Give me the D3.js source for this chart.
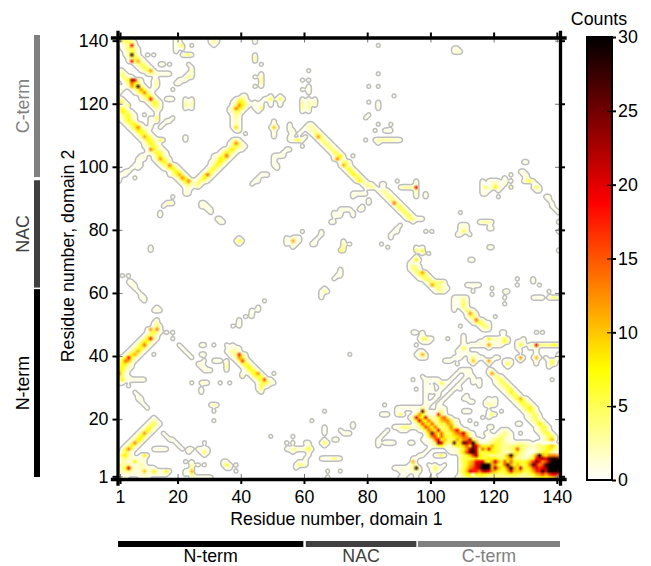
<!DOCTYPE html>
<html>
<head>
<meta charset="utf-8">
<script src="https://cdn.jsdelivr.net/npm/d3@7"></script>
<style>
  body { margin: 0; background: #fff; }
  text { font-family: "Liberation Sans", Arial, sans-serif; font-size: 17.8px; fill: #000; }
</style>
</head>
<body>
<svg id="chart" width="651" height="566"></svg>
<script>
// each run is [residue 1 start, residue 2, counts along residue 1 in base 36]
const topLeftRuns = [
  [1,140,"25541"],[1,139,"134542"],[2,138,"124i2"],[2,137,"125531"],[3,136,"13641"],[3,135,"14s51"],
  [4,134,"24651"],[4,133,"1i5b21"],[6,132,"13641"],[7,131,"13641"],[8,130,"135c2"],[10,129,"1331"],
  [1,130,"12"],[1,129,"151"],[1,128,"13421"],[2,127,"147ok41"],[3,126,"15e851"],[3,125,"12b6s51"],
  [5,124,"136c62"],[6,123,"137d51"],[8,122,"24861"],[8,121,"125i41"],[10,120,"13651"],[11,119,"1651"],
  [12,118,"132"],[13,117,"1"],[13,116,"2"],[13,115,"6"],[12,114,"12"],
  [12,127,"12"],[12,126,"13"],[12,125,"12"],[12,124,"1"],
  [1,125,"1"],[1,124,"21"],[1,123,"1"],[1,121,"42"],[1,120,"851"],[1,119,"3115"],
  [1,118,"463"],[1,117,"28631"],[1,116,"135621"],[1,115,"125721"],[2,114,"14752"],[3,113,"136841"],
  [4,112,"137d41"],[5,111,"138741"],[6,110,"137631"],[7,109,"13b641"],[8,108,"138631"],[14,108,"62"],
  [9,107,"14851"],[9,106,"124741"],[10,105,"1d6421"],[10,104,"1247521"],[12,103,"15831"],[12,102,"14c631"],
  [13,101,"14852"],[14,100,"135d41"],[15,99,"136841"],[17,98,"14862"],[17,97,"136b51"],[19,96,"15d82"],
  [20,95,"148d3"],[21,94,"1352"],[22,93,"121"],[22,92,"11"],[22,91,"11"]
];
const upStrandRuns = [
  [26,93,"3"],[25,94,"251"],[25,95,"13531"],[26,96,"14841"],[27,97,"16e41"],[28,98,"13731"],[29,99,"14731"],
  [30,100,"14841"],[30,101,"125841"],[31,102,"138741"],[31,103,"1146e41"],[33,104,"148531"],[34,105,"1368311"],
  [36,106,"256411"],[36,107,"14d51"],[37,108,"241"],[38,111,"13"],[37,112,"191"],[37,113,"131"],[37,114,"121"],
  [37,115,"131"],[37,116,"142"],[36,117,"12541"],[36,118,"14d851"],[37,119,"15d741"],[37,120,"128731"],
  [38,121,"1451"],[40,122,"12"],[41,110,"1"]
];
const midStrandRuns = [
  [61,113,"12"],[61,112,"231"],[61,111,"1241"],[62,110,"1352"],[63,109,"3c41"],[64,108,"1531"],[65,107,"1531"],
  [66,106,"1531"],[67,105,"1531"],[68,104,"1541"],[69,103,"1582"],[69,102,"2d51"],[71,101,"1451"],[71,100,"2b51"],
  [72,99,"1562"],[73,98,"1651"],[74,97,"2852"],[75,96,"1561"],[76,95,"2841"],[78,94,"1341"],[79,93,"1241"],
  [83,92,"1231"],[84,91,"1331"],[85,90,"1431"],[86,89,"1441"],[87,88,"1e41"],[88,87,"1551"],[89,86,"1551"],
  [90,85,"1551"],[91,84,"1551"],[92,83,"15411"],[94,82,"1"],[96,83,"11"],
  [94,70,"181"],[95,71,"1"],[93,69,"111"],[93,68,"1521"],[93,67,"1441"],[94,66,"146c3"],[95,65,"14651"],
  [96,64,"13551"],[98,63,"1455261"],[99,62,"1c5421"],[100,61,"125221"],[101,60,"1231"],
  [107,58,"11131"],[107,57,"10241"],[107,56,"10252"],[107,55,"10151"],[107,54,"1"],[110,54,"1531"],[111,53,"1c41"],
  [111,52,"1462"],[112,51,"12e41"],[113,50,"146511"],[115,49,"1452"],[116,48,"121"],[120,52,"1"]
];
const lowerLeftRuns = [
  [13,51,"1"],[13,50,"3"],[12,50,"1"],[12,49,"151"],[10,48,"1c3d1"],[10,47,"14731"],[9,46,"14631"],[8,45,"138i41"],
  [7,44,"148731"],[6,43,"137e41"],[5,42,"136841"],[4,41,"136b41"],[3,40,"148b41"],[1,39,"237i731"],[1,38,"36eb41"],
  [1,37,"47831"],[1,36,"67421"],[1,35,"8631"],[1,34,"c51"],[1,33,"8411"],[1,32,"182111111"],[1,31,"11"],[4,30,"1"],
  [35,43,"1"],[37,43,"1"],[36,42,"1111"],[35,41,"12331"],[36,40,"124h31"],[37,39,"13c82"],[38,38,"15g41"],[39,37,"15741"],
  [40,36,"15841"],[41,35,"15751"],[42,34,"158c2"],[43,33,"15662"],[44,32,"156f21"],[45,31,"156421"],[45,30,"1721"],
  [45,29,"14"],[46,28,"2"],[50,34,"1"],[40,34,"1"],[40,33,"3"],
  [12,20,"1"],[11,19,"131"],[10,18,"13621"],[9,17,"14721"],[8,16,"14841"],[7,15,"24c41"],[6,14,"14851"],[5,13,"13871"],
  [4,12,"14d51"],[3,11,"14841"],[2,10,"16d41"],[2,9,"2631"],[1,8,"16831"],[8,8,"181"],[1,7,"124121"],[7,7,"111"],
  [1,6,"122128211"],[1,5,"523411131"],[1,4,"237k51122111"],[1,3,"12342112a12821281"],[1,2,"1111111121131112"],
  [2,1,"11"],[8,1,"111"]
];
const rightRuns = [
  [118,35,"12"],[118,34,"2c2"],[119,33,"1341"],[120,32,"1451"],[120,31,"12551"],[121,30,"12561"],[122,29,"12561"],
  [123,28,"13841"],[124,27,"13641"],[125,26,"136b41"],[126,25,"136631"],[127,24,"136541"],[128,23,"136841"],
  [129,22,"13651"],[130,21,"12541"],[130,20,"12451"],[131,19,"13541"],[132,18,"13851"],[133,17,"13651"],
  [133,16,"12551"],[134,15,"13661"],[135,14,"13561"],[135,13,"136b2"],
  [117,45,"18222261"],[115,44,"1112111272"],[127,44,"121"],[129,45,"1"],[112,43,"1111"],[116,43,"12c2111"],
  [127,43,"171"],[131,43,"13k4444673"],[118,42,"1"],[127,42,"1"],[131,42,"1"],[133,42,"2"],[133,41,"1"],[133,40,"1"],
  [110,46,"1"],[110,45,"1"],[110,44,"1"],[110,43,"2"],[110,42,"6"],[109,42,"1"],[111,42,"1"],[108,41,"111"],
  [110,41,"11"],[112,40,"111"],[128,41,"1"],[104,38,"111"],[107,39,"111"],[110,40,"1"],[112,39,"141"],[112,38,"1a2"],
  [117,38,"1c1"],[123,38,"121"],[127,39,"1c1"],[128,38,"2"],[132,39,"1b1"],[133,38,"1"],[133,37,"1"],[136,39,"1"],
  [137,38,"161"],[137,37,"161"],[137,36,"1"],[113,37,"2"],[118,37,"2"],[123,37,"161"],[124,36,"1"],[108,37,"1"],
  [120,39,"11"],[115,39,"11"],[140,40,"1"],[140,39,"2"]
];
const triangleRuns = [
  [89,23,"1111111141"],[102,23,"111"],[89,22,"1"],[96,22,"3q4"],[100,22,"1"],[102,22,"241"],[89,21,"151"],
  [94,21,"14c73111h51"],[93,20,"14k97k4236cf51"],[94,19,"27k97e525acd621"],[95,18,"26g97f5465ca31"],
  [88,17,"112543111"],[96,17,"37gb7e5356d721"],[97,16,"26ea6j646adj821"],[98,15,"39pc7e646adfl821"],
  [98,14,"16eg7e75689cfc31"],[100,13,"4ek7a546b8dem621"],[100,12,"15ok645q6aqnhub21"],
  [122,16,"121"],[121,15,"12421"],[119,14,"1134311"],[117,13,"112454211"],[117,12,"124564321123221012"],
  [101,11,"26731"],[106,11,"1586af8pkb686b754334455432234458a52"],
  [108,10,"247cnrl6e8j86543346f5321123468642"],[107,9,"1259gpsl7576875322357431012467531"],
  [101,8,"1261"],[109,8,"357agn865434335bt9432125dtc8dddc"],[109,7,"4556797668785469c5332247iknjqstq"],
  [109,6,"357acjkk97blb7f7e76768bhojcgouuut"],[109,5,"257bdkmtutbd67erb6a658erkcgruuuu"],
  [109,4,"359dgjnuutbnb78fuc8l869fkhknuuuu"],[109,3,"46akihdkmjca766bka9a658bhisktuts"],
  [109,2,"257808787555445676553457bcgbgkki"],[109,1,"13454344332333223332233457878aba"],
  [88,4,"1111111"],[95,4,"s"],[94,4,"3"],[96,4,"3"],[94,6,"b"],[94,7,"1"],[94,5,"3"],[93,5,"12"],[95,5,"3"],
  [96,3,"1"],[90,3,"11"],[93,3,"1222"],[92,2,"1"],[95,2,"1"],[100,4,"161"],[99,5,"1"],[101,5,"2"],[100,3,"121"],
  [103,4,"1"],[104,5,"1"],[90,1,"11"],[95,1,"1"],[100,1,"11"],[108,1,"1"]
];
const sparseRuns = [
  [14,129,"1111"],[10,135,"1"],[12,135,"1"],[14,132,"11"],[17,132,"1"],[23,132,"1"],[19,140,"12"],[19,139,"11"],
  [19,138,"126"],[19,137,"1"],[21,137,"1"],[19,136,"1"],[21,135,"1351"],[24,138,"1"],[30,140,"121"],[30,139,"131"],
  [31,138,"1"],[44,140,"2"],[44,139,"1"],[44,135,"1"],[44,134,"4"],[44,133,"2"],[46,132,"1"],[44,128,"1"],[44,125,"1"],
  [46,129,"1"],[46,128,"3"],[46,127,"4"],[46,126,"3"],[46,125,"1"],[24,131,"1"],[24,130,"3"],[23,129,"12"],[22,128,"141"],
  [20,127,"111"],[19,126,"11"],[18,124,"1"],[16,121,"111"],[22,121,"1"],[24,121,"1"],[22,120,"3"],[24,120,"3"],[22,119,"4"],
  [23,119,"1"],[24,119,"3"],[22,118,"1"],[24,118,"1"],[22,109,"1"],[22,108,"1"],[44,120,"1"],[44,119,"1"],[44,118,"1"],
  [45,117,"1"],[46,118,"5"],[46,119,"2"],[46,120,"1"],[47,121,"1"],[48,121,"1"],[49,121,"6"],[49,122,"1"],[49,120,"1"],
  [49,119,"1"],[52,122,"1"],[51,121,"161"],[52,120,"1"],[52,119,"1"],[50,114,"1"],[50,113,"2"],[49,112,"1a1"],[50,111,"2"],
  [50,110,"1"],[50,109,"1"],[59,121,"1"],[59,120,"3"],[59,119,"4"],[59,118,"3"],[59,117,"1"],[61,121,"1"],[61,120,"3"],
  [61,119,"4"],[61,118,"3"],[61,117,"1"],[63,121,"1"],[63,120,"3"],[63,119,"2"],[61,130,"1"],[59,127,"1"],[61,127,"1"],
  [59,124,"1"],[61,125,"1"],[61,124,"1"],[61,123,"1"],[55,113,"1"],[55,112,"1"],[55,111,"11"],[56,110,"1"],[55,109,"1"],
  [55,108,"11551"],[58,110,"1"],[59,111,"1"],[60,112,"1"],[60,109,"1"],[59,106,"1"],[54,105,"11"],[53,104,"1"],
  [50,103,"1111"],[50,102,"1"],[50,101,"1"],[50,100,"11"],[51,99,"1"],[46,97,"111"],[45,96,"1"],[44,95,"11"],[43,94,"1"],
  [27,88,"11"],[27,87,"1"],[28,87,"11"],[29,86,"11"],[30,85,"1"],[32,83,"11"],[33,82,"11"],[18,90,"1"],[16,88,"131"],
  [15,87,"1"],[14,85,"1"],[14,84,"1"],[39,77,"1"],[38,76,"172"],[39,75,"1"],[54,77,"1021"],[54,76,"11c11"],[54,75,"1021"],
  [56,74,"1"],[58,77,"1"],[59,79,"1"],[62,75,"11"],[63,76,"1"],[64,77,"1"],[65,78,"1"],[65,79,"1"],[68,82,"11"],[69,85,"1"],
  [69,84,"11"],[11,74,"1"],[11,73,"1"],[6,100,"1"],[5,99,"1"],[3,98,"11"],[1,97,"111"],[1,96,"1"],[1,95,"1"],[6,96,"1"],
  [7,102,"111"],[8,103,"11"],[7,101,"1"],[8,100,"1"],[7,99,"1"],[11,112,"1"],[11,113,"1"],[11,114,"1"],[11,115,"1"],
  [14,112,"1"],[15,113,"1"],[16,114,"11"],[18,115,"1"],[9,116,"1"],
  [83,138,"1"],[107,137,"11"],[107,136,"121"],[83,129,"1"],[80,125,"1"],[83,125,"1"],[88,122,"1"],[80,120,"1"],[83,120,"1"],
  [83,119,"1"],[83,118,"1"],[80,116,"1"],[79,115,"1"],[83,113,"1"],[87,113,"1"],[82,111,"1"],[85,111,"111"],[79,108,"1"],
  [82,108,"133333221"],[83,107,"1"],[75,103,"1"],[84,94,"11"],[89,95,"1"],[90,93,"2333"],[94,93,"3k"],[95,95,"1"],[95,94,"2"],
  [95,92,"4"],[95,91,"2"],[95,90,"1"],[98,91,"1"],[98,90,"1"],[75,91,"11111"],[75,90,"1"],[80,89,"1"],[80,88,"1"],[78,87,"1"],
  [77,86,"11"],[75,85,"1"],[75,84,"1"],[71,86,"1111"],[71,85,"1"],[71,84,"1"],[90,81,"1"],[89,80,"1"],[88,79,"11"],[87,78,"1"],
  [87,77,"1"],[84,75,"1"],[86,74,"1"],[98,79,"1"],[100,79,"1"],[109,85,"1"],[109,81,"111"],[109,80,"121"],[109,79,"161"],
  [108,78,"11"],[112,78,"1"],[115,82,"13331"],[118,80,"11"],[118,74,"11"],[95,74,"1"],[95,73,"6"],[96,73,"1"],[97,74,"1"],
  [97,73,"7"],[97,72,"3"],[99,72,"1"],[95,71,"2"],[72,76,"1"],[72,75,"3"],[72,74,"4"],[72,73,"3"],[71,73,"5"],[74,75,"1"],
  [112,70,"11"],[116,95,"1"],[118,95,"1111"],[123,96,"1"],[123,95,"1"],[123,94,"2"],[116,94,"1"],[119,94,"141"],[116,93,"1612821"],
  [116,92,"1"],[118,92,"1"],[121,92,"1"],[121,90,"1"],[116,91,"11"],[125,97,"1"],[125,95,"1"],[125,93,"4"],[129,101,"11"],
  [128,98,"11"],[129,97,"11"],[130,96,"3"],[129,95,"1462"],[133,94,"1"],[132,93,"161"],[133,92,"11"],[136,90,"11"],[137,89,"1"],
  [138,88,"1"],[138,87,"1"],[139,86,"1"],[140,85,"1"],[140,82,"1"],[140,79,"1"],[140,73,"1"],
  [2,65,"1"],[4,65,"1"],[4,63,"11"],[5,62,"11"],[6,61,"1"],[7,60,"1"],[8,59,"1"],[8,58,"11"],[9,57,"1"],[12,54,"111"],[13,55,"1"],
  [16,47,"1"],[18,47,"1"],[18,45,"1"],[12,40,"1"],[20,43,"1"],[21,42,"1"],[22,41,"1"],[23,40,"1"],[24,39,"1"],[27,43,"11"],
  [31,43,"1"],[27,40,"11"],[28,38,"1"],[31,38,"111"],[26,37,"11"],[27,36,"11"],[28,35,"111"],[35,38,"1"],[35,37,"3"],[35,36,"4"],
  [35,35,"1"],[24,31,"1"],[27,31,"121"],[33,31,"1"],[36,31,"1"],[27,29,"1"],[27,28,"1"],[30,24,"131"],[31,22,"1"],[31,19,"1"],
  [37,49,"1"],[39,51,"1"],[39,50,"1"],[39,49,"1"],[41,52,"1"],[43,54,"1"],[43,53,"1"],[43,52,"1"],[45,55,"1"],[45,54,"1"],[47,57,"1"],
  [65,60,"131"],[66,61,"1"],[65,59,"1"],[65,58,"1"],[70,65,"11"],[69,64,"1"],[6,28,"1"],[7,27,"1"],[7,26,"11"],[8,25,"1"],[9,24,"1"],[10,23,"1"],
  [15,15,"1"],[16,14,"1"],[17,13,"11"],[19,12,"1"],[20,11,"1"],[21,10,"1"],[16,10,"1"],[12,10,"1111"],[28,12,"1"],[26,10,"1111"],
  [27,9,"151"],[23,10,"11"],[23,9,"1"],[28,8,"1"],[22,6,"1"],[24,6,"1"],[24,5,"3"],[24,4,"4"],[24,3,"b"],[24,2,"5"],[23,3,"1"],[22,3,"1"],
  [22,2,"1"],[24,1,"1111111"],[26,5,"1"],[28,5,"1"],[34,6,"11"],[34,5,"171"],[35,4,"11"],[38,5,"1"],[38,3,"1"],[49,14,"1"],[56,14,"1"],
  [54,12,"1"],[56,12,"1"],[54,10,"113221361"],[56,9,"2"],[61,11,"3"],[60,12,"11"],[61,9,"2"],[61,8,"1"],[60,7,"1"],[60,6,"1"],[58,6,"1"],
  [57,5,"1441"],[57,4,"1"],[66,13,"1"],[65,12,"161"],[66,11,"1"],[62,19,"1"],[66,22,"1"],[66,17,"1"],[66,16,"1"],[66,15,"1"],[65,7,"111"],
  [68,7,"161"],[67,3,"1"],[67,1,"1"],[69,13,"11"],[71,67,"1"],[71,66,"1"],[111,62,"11111"],[113,60,"1"],[127,64,"1"],[127,62,"1"],
  [132,64,"1"],[132,63,"1"],[134,62,"1"],[119,61,"1"],[119,59,"1"],[123,60,"11"],[123,58,"1"],[123,56,"1"],[132,58,"1111"],[137,60,"1"],
  [137,58,"1352"],[109,49,"1"],[122,47,"11"],[133,47,"1"],[135,47,"1"],[94,47,"11"],[97,47,"1"],[97,46,"2"],[96,45,"14611"],[97,44,"111"],
  [95,43,"1"],[105,45,"1"],[96,41,"11"],[95,40,"12b2"],[96,39,"121"],[74,40,"1"],[138,32,"1"],[94,32,"1"],[97,33,"1"],[102,31,"161"],
  [103,30,"1"],[95,29,"1"],[98,32,"11111"],[98,31,"1"],[98,30,"1"],[100,30,"1"],[100,29,"1"],[98,29,"1"],[98,28,"1"],[100,28,"1"],[98,27,"1"],
  [98,26,"1"],[98,25,"1"],[98,24,"1"],[109,35,"111"],[108,34,"1"],[107,33,"1"],[106,32,"1"],[105,31,"1"],[104,30,"1"],[103,29,"1"],[102,28,"1"],
  [102,27,"1"],[101,26,"1"],[100,25,"1"],[99,24,"1"],[111,34,"11"],[111,33,"1"],[110,32,"1"],[109,31,"1"],[108,30,"1"],[107,29,"1"],[106,28,"1"],
  [105,27,"1"],[104,26,"1"],[103,25,"1"],[102,24,"1"],[112,35,"1"],[113,33,"1"],[115,32,"1"],[115,31,"1"],[115,30,"1"],[113,32,"1"],[113,31,"1"],
  [109,29,"1"],[111,27,"1"],[110,26,"11"],[112,25,"11"],[110,22,"111"],[117,25,"1111"],[117,24,"1421"],[118,26,"1"],[120,26,"1"],[118,21,"151"],
  [118,22,"1"],[118,20,"1"],[122,22,"1"],[116,20,"1"],[128,18,"1"],[123,14,"1"],[118,17,"11"],[114,18,"1"],[117,15,"11"],[112,19,"1"],[128,15,"1"],
  [127,18,"1"],[83,13,"1"],[83,12,"1"],[83,11,"1"],[84,14,"1"],[85,15,"1"],[86,16,"1"],[85,12,"1111"],[93,12,"11"],[85,24,"1"],[84,21,"111"],
  [96,16,"1"],[90,16,"111"],[97,13,"1"],[98,12,"11"],[100,11,"1"],[99,10,"1"],[98,9,"1"],[96,8,"11"],[95,7,"1"],[105,10,"11"],[106,9,"1"],
  [75,18,"1"],[75,17,"1"],[71,16,"1"],[72,15,"1"],[73,15,"11"],[71,7,"1"],[71,3,"1"],[85,21,"1"]
];

const allRuns = [topLeftRuns, upStrandRuns, midStrandRuns, lowerLeftRuns, rightRuns, triangleRuns, sparseRuns];

const xTickPositions = [1.8, 20, 40, 60, 80, 100, 120, 140];
const xTickLabels = ["1", "20", "40", "60", "80", "100", "120", "140"];
const yTickPositions = [1.85, 20, 40, 60, 80, 100, 120, 140];
const yTickLabels = ["1", "20", "40", "60", "80", "100", "120", "140"];
const colorTicks = [0, 5, 10, 15, 20, 25, 30];

const domainNames = ["N-term", "NAC", "C-term"];
const domainColors = ["#000000", "#404040", "#808080"];
const domainFromX = [1, 60.5, 96];
const domainToX = [59.7, 95.5, 141];
const domainFromY = [1, 61, 96];
const domainToY = [60.5, 95, 141];

const size = 140;
const margin = { left: 117.5, right: 560, top: 37.5, bottom: 479 };

const x = d3.scaleLinear().domain([1, 141]).range([margin.left, margin.right]);
const y = d3.scaleLinear().domain([1, 141]).range([margin.bottom, margin.top]);

// white -> yellow -> red -> black, same as a reversed "hot" map
const heat = d3.scaleLinear()
  .domain([0, 7.5, 18.75, 30])
  .range(["#ffffff", "#ffff00", "#ff0000", "#000000"])
  .clamp(true);

// fill the grid, row 0 is residue 140
const grid = new Array(size * size).fill(0);
allRuns.forEach(function (runs) {
  runs.forEach(function (run) {
    const row = 140 - run[1];
    run[2].split("").forEach(function (ch, k) {
      const col = run[0] - 1 + k;
      if (col >= size) return;
      const v = parseInt(ch, 36);
      const idx = row * size + col;
      grid[idx] = Math.max(grid[idx], v);
    });
  });
});

const svg = d3.select("#chart");

// counts image, scaled up by the browser so it comes out smooth
const canvas = document.createElement("canvas");
canvas.width = size;
canvas.height = size;
const ctx = canvas.getContext("2d");
const img = ctx.createImageData(size, size);
grid.forEach(function (v, i) {
  const c = d3.rgb(heat(v));
  img.data[i * 4] = c.r;
  img.data[i * 4 + 1] = c.g;
  img.data[i * 4 + 2] = c.b;
  img.data[i * 4 + 3] = 255;
});
ctx.putImageData(img, 0, 0);

svg.append("image")
  .attr("x", x(1))
  .attr("y", y(141))
  .attr("width", x(141) - x(1))
  .attr("height", y(1) - y(141))
  .attr("preserveAspectRatio", "none")
  .attr("href", canvas.toDataURL());

// grey outline around everything that was counted at all,
// traced on a finer blurred copy so the small rings come out round
const fine = 4;
const fineSize = size * fine;
const fineGrid = new Float64Array(fineSize * fineSize);
for (let r = 0; r < fineSize; r++) {
  for (let c = 0; c < fineSize; c++) {
    const cellValue = grid[Math.floor(r / fine) * size + Math.floor(c / fine)];
    fineGrid[r * fineSize + c] = Math.min(cellValue, 1);
  }
}
d3.blur2({ data: fineGrid, width: fineSize, height: fineSize }, 1.5);

const toPlot = d3.geoTransform({
  point: function (u, v) { this.stream.point(x(1 + u / fine), y(141 - v / fine)); }
});
const contourPath = d3.geoPath(toPlot);
const contours = d3.contours().size([fineSize, fineSize]).thresholds([0.26])(fineGrid);

svg.append("clipPath").attr("id", "plot-clip").append("rect")
  .attr("x", x(1)).attr("y", y(141))
  .attr("width", x(141) - x(1)).attr("height", y(1) - y(141));

svg.append("g")
  .attr("clip-path", "url(#plot-clip)")
  .selectAll("path")
  .data(contours)
  .join("path")
  .attr("d", contourPath)
  .attr("fill", "none")
  .attr("stroke", "#bdbdbd")
  .attr("stroke-width", 1.5)
  .attr("stroke-linejoin", "round");

function styleAxis(g, width) {
  g.select(".domain").attr("stroke", "#000").attr("stroke-width", width).attr("stroke-linecap", "square");
  g.selectAll(".tick line").attr("stroke", "#000").attr("stroke-width", 2);
}

// inner grey ticks first, axes go over them
function innerTicks(axis, tx, ty) {
  const g = svg.append("g")
    .attr("transform", "translate(" + tx + "," + ty + ")")
    .call(axis.tickSizeInner(-5).tickSizeOuter(0).tickFormat(""));
  g.select(".domain").remove();
  g.selectAll(".tick line").attr("stroke", "#777").attr("stroke-width", 1);
}
innerTicks(d3.axisBottom(x).tickValues(xTickPositions), 0, margin.bottom);
innerTicks(d3.axisTop(x).tickValues(xTickPositions), 0, margin.top);
innerTicks(d3.axisLeft(y).tickValues(yTickPositions), margin.left, 0);
innerTicks(d3.axisRight(y).tickValues(yTickPositions), margin.right, 0);

svg.append("g")
  .attr("transform", "translate(0," + margin.bottom + ")")
  .call(d3.axisBottom(x).tickValues(xTickPositions).tickSize(5).tickPadding(6)
    .tickFormat(function (d, i) { return xTickLabels[i]; }))
  .call(styleAxis, 3.3);

svg.append("g")
  .attr("transform", "translate(0," + margin.top + ")")
  .call(d3.axisTop(x).tickValues(xTickPositions).tickSize(5).tickFormat(""))
  .call(styleAxis, 3.3);

svg.append("g")
  .attr("transform", "translate(" + margin.left + ",0)")
  .call(d3.axisLeft(y).tickValues(yTickPositions).tickSize(5).tickPadding(4)
    .tickFormat(function (d, i) { return yTickLabels[i]; }))
  .call(styleAxis, 3.3);

svg.append("g")
  .attr("transform", "translate(" + margin.right + ",0)")
  .call(d3.axisRight(y).tickValues(yTickPositions).tickSize(5).tickFormat(""))
  .call(styleAxis, 3.3);

svg.selectAll(".tick text").style("font-size", "17.8px").style("font-family", '"Liberation Sans", Arial, sans-serif');

svg.append("text")
  .attr("x", 336.5).attr("y", 525).attr("text-anchor", "middle")
  .text("Residue number, domain 1");

svg.append("text")
  .attr("transform", "translate(74,256) rotate(-90)").attr("text-anchor", "middle")
  .text("Residue number, domain 2");

// color bar
const cb = { left: 587, right: 612, top: 37, bottom: 480 };
const cbScale = d3.scaleLinear().domain([0, 30]).range([cb.bottom, cb.top]);

const grad = svg.append("defs").append("linearGradient")
  .attr("id", "hot").attr("x1", 0).attr("x2", 0).attr("y1", 1).attr("y2", 0);
[0, 7.5, 18.75, 30].forEach(function (v) {
  grad.append("stop").attr("offset", v / 30).attr("stop-color", heat(v));
});

svg.append("rect")
  .attr("x", cb.left).attr("y", cb.top)
  .attr("width", cb.right - cb.left).attr("height", cb.bottom - cb.top)
  .attr("fill", "url(#hot)")
  .attr("stroke", "#000").attr("stroke-width", 2);

const cbInner = svg.append("g")
  .attr("transform", "translate(" + cb.right + ",0)")
  .call(d3.axisRight(cbScale).tickValues(colorTicks).tickSizeInner(-5).tickSizeOuter(0).tickFormat(""));
cbInner.select(".domain").remove();
cbInner.selectAll(".tick line").attr("stroke", "#000").attr("stroke-width", 1);

const cbAxis = svg.append("g")
  .attr("transform", "translate(" + cb.right + ",0)")
  .call(d3.axisRight(cbScale).tickValues(colorTicks).tickSize(4).tickPadding(2));
cbAxis.select(".domain").remove();
cbAxis.selectAll(".tick line").attr("stroke", "#000").attr("stroke-width", 2);
cbAxis.selectAll(".tick text").style("font-size", "17.8px").style("font-family", '"Liberation Sans", Arial, sans-serif');

svg.append("text")
  .attr("x", 599).attr("y", 25).attr("text-anchor", "middle")
  .text("Counts");

// domain bars under the plot and along the left side
const barX = d3.scaleLinear().domain([1, 141]).range([118, 560]);
const barY = d3.scaleLinear().domain([1, 141]).range([477, 35]);

domainNames.forEach(function (name, i) {
  svg.append("rect")
    .attr("x", barX(domainFromX[i]))
    .attr("y", 541)
    .attr("width", barX(domainToX[i]) - barX(domainFromX[i]))
    .attr("height", 6)
    .attr("fill", domainColors[i]);
  svg.append("text")
    .attr("x", (barX(domainFromX[i]) + barX(domainToX[i])) / 2)
    .attr("y", 561.5)
    .attr("text-anchor", "middle")
    .style("fill", domainColors[i])
    .text(name);

  svg.append("rect")
    .attr("x", 34)
    .attr("y", barY(domainToY[i]))
    .attr("width", 6)
    .attr("height", barY(domainFromY[i]) - barY(domainToY[i]))
    .attr("fill", domainColors[i]);
  svg.append("text")
    .attr("transform", "translate(29," + (barY(domainFromY[i]) + barY(domainToY[i])) / 2 + ") rotate(-90)")
    .attr("text-anchor", "middle")
    .style("fill", domainColors[i])
    .text(name);
});
</script>
</body>
</html>
